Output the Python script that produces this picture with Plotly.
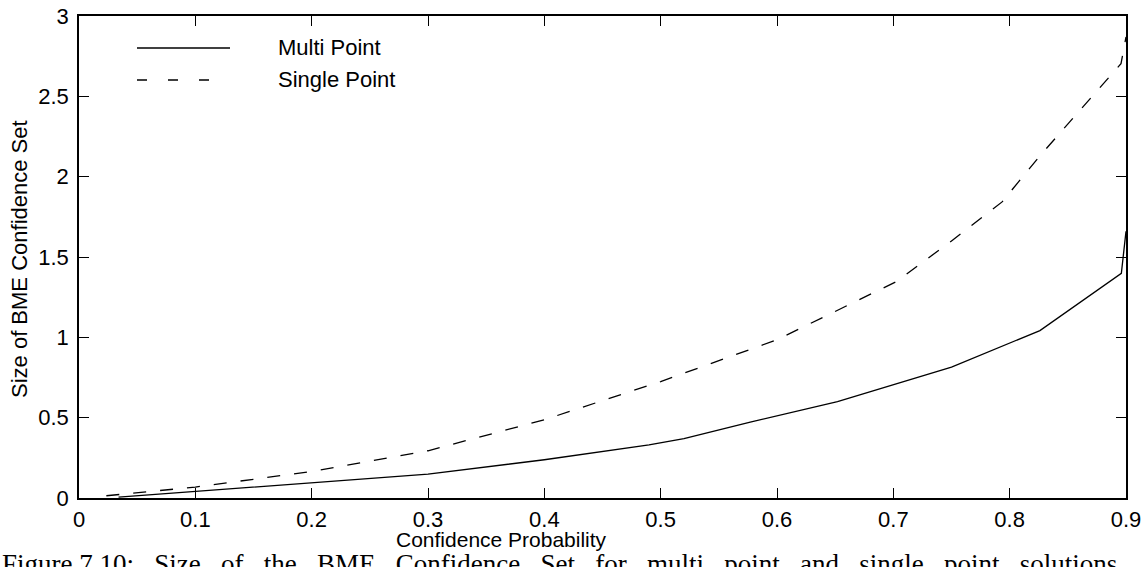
import plotly.graph_objects as go

# ---- data ----
multi_x = [0.034, 0.1, 0.2, 0.3, 0.4, 0.49, 0.52, 0.577, 0.652, 0.75, 0.826, 0.896, 0.9]
multi_y = [0.005, 0.041, 0.093, 0.149, 0.238, 0.33, 0.37, 0.472, 0.600, 0.814, 1.042, 1.398, 1.66]

single_x = [0.0235, 0.1, 0.2, 0.3, 0.4, 0.5, 0.6, 0.7024, 0.75, 0.7935, 0.826, 0.8957, 0.9]
single_y = [0.014, 0.068, 0.165, 0.294, 0.487, 0.725, 0.985, 1.346, 1.60, 1.843, 2.13, 2.703, 2.87]

x_ticks = [0, 0.1, 0.2, 0.3, 0.4, 0.5, 0.6, 0.7, 0.8, 0.9]
x_tick_text = ["0", "0.1", "0.2", "0.3", "0.4", "0.5", "0.6", "0.7", "0.8", "0.9"]
y_ticks = [0, 0.5, 1, 1.5, 2, 2.5, 3]
y_tick_text = ["0", "0.5", "1", "1.5", "2", "2.5", "3"]

series_names = ["Multi Point", "Single Point"]
x_title = "Confidence Probability"
y_title = "Size of BME Confidence Set"
caption = "Figure 7.10:   Size   of   the   BME   Confidence   Set   for   multi   point   and   single   point   solutions"

W, H = 1148, 567
ML, MR, MT, MB = 79, 22, 16, 69
FONT = "Liberation Sans, Arial, sans-serif"

fig = go.Figure()
fig.add_trace(go.Scatter(x=multi_x, y=multi_y, mode="lines", name=series_names[0],
                         line=dict(color="black", width=1.3), showlegend=False))
fig.add_trace(go.Scatter(x=single_x, y=single_y, mode="lines", name=series_names[1],
                         line=dict(color="black", width=1.3, dash="13px,14px"), showlegend=False))

axis_common = dict(showline=True, linecolor="black", linewidth=1.6, mirror="ticks",
                   ticks="inside", ticklen=10, tickwidth=1.2, tickcolor="black",
                   showgrid=False, zeroline=False, automargin=False,
                   tickfont=dict(family=FONT, size=22, color="black"))

fig.update_xaxes(range=[0, 0.9], tickvals=x_ticks, ticktext=x_tick_text,
                 ticklabelstandoff=1, **axis_common)
fig.update_yaxes(range=[0, 3], tickvals=y_ticks, ticktext=y_tick_text,
                 ticklabelstandoff=4, **axis_common)

pw = W - ML - MR
ph = H - MT - MB

def dom_x(p):
    return (p - ML) / pw

def dom_y(p):
    return 1 - (p - MT) / ph

shapes = [
    dict(type="line", xref="paper", yref="paper", x0=dom_x(137), x1=dom_x(230),
         y0=dom_y(48), y1=dom_y(48), line=dict(color="black", width=1.3)),
    dict(type="line", xref="paper", yref="paper", x0=dom_x(137), x1=dom_x(230),
         y0=dom_y(80), y1=dom_y(80), line=dict(color="black", width=1.3, dash="10px,21px")),
]

annotations = [
    dict(text=series_names[0], xref="paper", yref="paper", x=dom_x(276), y=dom_y(48),
         xanchor="left", yanchor="middle", showarrow=False,
         font=dict(family=FONT, size=22, color="black")),
    dict(text=series_names[1], xref="paper", yref="paper", x=dom_x(276), y=dom_y(80),
         xanchor="left", yanchor="middle", showarrow=False,
         font=dict(family=FONT, size=22, color="black")),
    dict(text=x_title, xref="paper", yref="paper", x=dom_x(501), y=dom_y(539),
         xanchor="center", yanchor="middle", showarrow=False,
         font=dict(family=FONT, size=21, color="black")),
    dict(text=y_title, xref="paper", yref="paper", x=dom_x(19), y=dom_y(259),
         xanchor="center", yanchor="middle", showarrow=False, textangle=-90,
         font=dict(family=FONT, size=22, color="black")),
    dict(text=caption, xref="paper", yref="paper", x=dom_x(0), y=dom_y(547),
         xanchor="left", yanchor="top", showarrow=False,
         font=dict(family="Liberation Serif, Times New Roman, serif", size=27, color="black")),
]

fig.update_layout(width=W, height=H, margin=dict(l=ML, r=MR, t=MT, b=MB, autoexpand=False),
                  paper_bgcolor="white", plot_bgcolor="white",
                  shapes=shapes, annotations=annotations, showlegend=False)

fig.write_html("out.html")
